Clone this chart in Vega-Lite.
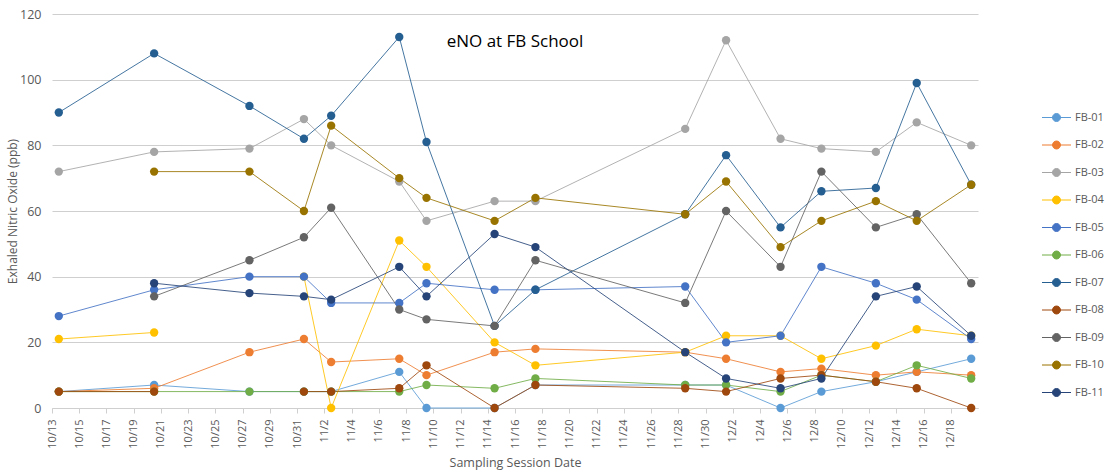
{
  "$schema": "https://vega.github.io/schema/vega-lite/v6.json",
  "width": 926,
  "height": 394,
  "autosize": {"type": "none"},
  "padding": {"left": 52, "top": 14, "right": 129, "bottom": 67},
  "background": "#ffffff",
  "title": {"text": "eNO at FB School", "offset": -43, "fontSize": 17, "font": "Open Sans", "fontWeight": "normal", "color": "#000000", "anchor": "middle"},
  "config": {"view": {"stroke": null}},
  "data": {"values": [
    {"d":"2015-10-13","s":"FB-01","v":5},{"d":"2015-10-20","s":"FB-01","v":7},{"d":"2015-10-27","s":"FB-01","v":5},{"d":"2015-10-31","s":"FB-01","v":5},{"d":"2015-11-02","s":"FB-01","v":5},{"d":"2015-11-07","s":"FB-01","v":11},{"d":"2015-11-09","s":"FB-01","v":0},{"d":"2015-11-14","s":"FB-01","v":0},{"d":"2015-11-17","s":"FB-01","v":7},{"d":"2015-11-28","s":"FB-01","v":7},{"d":"2015-12-01","s":"FB-01","v":7},{"d":"2015-12-05","s":"FB-01","v":0},{"d":"2015-12-08","s":"FB-01","v":5},{"d":"2015-12-12","s":"FB-01","v":8},{"d":"2015-12-15","s":"FB-01","v":11},{"d":"2015-12-19","s":"FB-01","v":15},
    {"d":"2015-10-13","s":"FB-02","v":5},{"d":"2015-10-20","s":"FB-02","v":6},{"d":"2015-10-27","s":"FB-02","v":17},{"d":"2015-10-31","s":"FB-02","v":21},{"d":"2015-11-02","s":"FB-02","v":14},{"d":"2015-11-07","s":"FB-02","v":15},{"d":"2015-11-09","s":"FB-02","v":10},{"d":"2015-11-14","s":"FB-02","v":17},{"d":"2015-11-17","s":"FB-02","v":18},{"d":"2015-11-28","s":"FB-02","v":17},{"d":"2015-12-01","s":"FB-02","v":15},{"d":"2015-12-05","s":"FB-02","v":11},{"d":"2015-12-08","s":"FB-02","v":12},{"d":"2015-12-12","s":"FB-02","v":10},{"d":"2015-12-15","s":"FB-02","v":11},{"d":"2015-12-19","s":"FB-02","v":10},
    {"d":"2015-10-13","s":"FB-03","v":72},{"d":"2015-10-20","s":"FB-03","v":78},{"d":"2015-10-27","s":"FB-03","v":79},{"d":"2015-10-31","s":"FB-03","v":88},{"d":"2015-11-02","s":"FB-03","v":80},{"d":"2015-11-07","s":"FB-03","v":69},{"d":"2015-11-09","s":"FB-03","v":57},{"d":"2015-11-14","s":"FB-03","v":63},{"d":"2015-11-17","s":"FB-03","v":63},{"d":"2015-11-28","s":"FB-03","v":85},{"d":"2015-12-01","s":"FB-03","v":112},{"d":"2015-12-05","s":"FB-03","v":82},{"d":"2015-12-08","s":"FB-03","v":79},{"d":"2015-12-12","s":"FB-03","v":78},{"d":"2015-12-15","s":"FB-03","v":87},{"d":"2015-12-19","s":"FB-03","v":80},
    {"d":"2015-10-13","s":"FB-04","v":21},{"d":"2015-10-20","s":"FB-04","v":23},{"d":"2015-10-27","s":"FB-04","v":null},{"d":"2015-10-31","s":"FB-04","v":40},{"d":"2015-11-02","s":"FB-04","v":0},{"d":"2015-11-07","s":"FB-04","v":51},{"d":"2015-11-09","s":"FB-04","v":43},{"d":"2015-11-14","s":"FB-04","v":20},{"d":"2015-11-17","s":"FB-04","v":13},{"d":"2015-11-28","s":"FB-04","v":17},{"d":"2015-12-01","s":"FB-04","v":22},{"d":"2015-12-05","s":"FB-04","v":22},{"d":"2015-12-08","s":"FB-04","v":15},{"d":"2015-12-12","s":"FB-04","v":19},{"d":"2015-12-15","s":"FB-04","v":24},{"d":"2015-12-19","s":"FB-04","v":22},
    {"d":"2015-10-13","s":"FB-05","v":28},{"d":"2015-10-20","s":"FB-05","v":36},{"d":"2015-10-27","s":"FB-05","v":40},{"d":"2015-10-31","s":"FB-05","v":40},{"d":"2015-11-02","s":"FB-05","v":32},{"d":"2015-11-07","s":"FB-05","v":32},{"d":"2015-11-09","s":"FB-05","v":38},{"d":"2015-11-14","s":"FB-05","v":36},{"d":"2015-11-17","s":"FB-05","v":36},{"d":"2015-11-28","s":"FB-05","v":37},{"d":"2015-12-01","s":"FB-05","v":20},{"d":"2015-12-05","s":"FB-05","v":22},{"d":"2015-12-08","s":"FB-05","v":43},{"d":"2015-12-12","s":"FB-05","v":38},{"d":"2015-12-15","s":"FB-05","v":33},{"d":"2015-12-19","s":"FB-05","v":21},
    {"d":"2015-10-13","s":"FB-06","v":5},{"d":"2015-10-20","s":"FB-06","v":5},{"d":"2015-10-27","s":"FB-06","v":5},{"d":"2015-10-31","s":"FB-06","v":5},{"d":"2015-11-02","s":"FB-06","v":5},{"d":"2015-11-07","s":"FB-06","v":5},{"d":"2015-11-09","s":"FB-06","v":7},{"d":"2015-11-14","s":"FB-06","v":6},{"d":"2015-11-17","s":"FB-06","v":9},{"d":"2015-11-28","s":"FB-06","v":7},{"d":"2015-12-01","s":"FB-06","v":7},{"d":"2015-12-05","s":"FB-06","v":5},{"d":"2015-12-08","s":"FB-06","v":10},{"d":"2015-12-12","s":"FB-06","v":8},{"d":"2015-12-15","s":"FB-06","v":13},{"d":"2015-12-19","s":"FB-06","v":9},
    {"d":"2015-10-13","s":"FB-07","v":90},{"d":"2015-10-20","s":"FB-07","v":108},{"d":"2015-10-27","s":"FB-07","v":92},{"d":"2015-10-31","s":"FB-07","v":82},{"d":"2015-11-02","s":"FB-07","v":89},{"d":"2015-11-07","s":"FB-07","v":113},{"d":"2015-11-09","s":"FB-07","v":81},{"d":"2015-11-14","s":"FB-07","v":25},{"d":"2015-11-17","s":"FB-07","v":36},{"d":"2015-11-28","s":"FB-07","v":59},{"d":"2015-12-01","s":"FB-07","v":77},{"d":"2015-12-05","s":"FB-07","v":55},{"d":"2015-12-08","s":"FB-07","v":66},{"d":"2015-12-12","s":"FB-07","v":67},{"d":"2015-12-15","s":"FB-07","v":99},{"d":"2015-12-19","s":"FB-07","v":68},
    {"d":"2015-10-13","s":"FB-08","v":5},{"d":"2015-10-20","s":"FB-08","v":5},{"d":"2015-10-27","s":"FB-08","v":null},{"d":"2015-10-31","s":"FB-08","v":5},{"d":"2015-11-02","s":"FB-08","v":5},{"d":"2015-11-07","s":"FB-08","v":6},{"d":"2015-11-09","s":"FB-08","v":13},{"d":"2015-11-14","s":"FB-08","v":0},{"d":"2015-11-17","s":"FB-08","v":7},{"d":"2015-11-28","s":"FB-08","v":6},{"d":"2015-12-01","s":"FB-08","v":5},{"d":"2015-12-05","s":"FB-08","v":9},{"d":"2015-12-08","s":"FB-08","v":10},{"d":"2015-12-12","s":"FB-08","v":8},{"d":"2015-12-15","s":"FB-08","v":6},{"d":"2015-12-19","s":"FB-08","v":0},
    {"d":"2015-10-20","s":"FB-09","v":34},{"d":"2015-10-27","s":"FB-09","v":45},{"d":"2015-10-31","s":"FB-09","v":52},{"d":"2015-11-02","s":"FB-09","v":61},{"d":"2015-11-07","s":"FB-09","v":30},{"d":"2015-11-09","s":"FB-09","v":27},{"d":"2015-11-14","s":"FB-09","v":25},{"d":"2015-11-17","s":"FB-09","v":45},{"d":"2015-11-28","s":"FB-09","v":32},{"d":"2015-12-01","s":"FB-09","v":60},{"d":"2015-12-05","s":"FB-09","v":43},{"d":"2015-12-08","s":"FB-09","v":72},{"d":"2015-12-12","s":"FB-09","v":55},{"d":"2015-12-15","s":"FB-09","v":59},{"d":"2015-12-19","s":"FB-09","v":38},
    {"d":"2015-10-20","s":"FB-10","v":72},{"d":"2015-10-27","s":"FB-10","v":72},{"d":"2015-10-31","s":"FB-10","v":60},{"d":"2015-11-02","s":"FB-10","v":86},{"d":"2015-11-07","s":"FB-10","v":70},{"d":"2015-11-09","s":"FB-10","v":64},{"d":"2015-11-14","s":"FB-10","v":57},{"d":"2015-11-17","s":"FB-10","v":64},{"d":"2015-11-28","s":"FB-10","v":59},{"d":"2015-12-01","s":"FB-10","v":69},{"d":"2015-12-05","s":"FB-10","v":49},{"d":"2015-12-08","s":"FB-10","v":57},{"d":"2015-12-12","s":"FB-10","v":63},{"d":"2015-12-15","s":"FB-10","v":57},{"d":"2015-12-19","s":"FB-10","v":68},
    {"d":"2015-10-20","s":"FB-11","v":38},{"d":"2015-10-27","s":"FB-11","v":35},{"d":"2015-10-31","s":"FB-11","v":34},{"d":"2015-11-02","s":"FB-11","v":33},{"d":"2015-11-07","s":"FB-11","v":43},{"d":"2015-11-09","s":"FB-11","v":34},{"d":"2015-11-14","s":"FB-11","v":53},{"d":"2015-11-17","s":"FB-11","v":49},{"d":"2015-11-28","s":"FB-11","v":17},{"d":"2015-12-01","s":"FB-11","v":9},{"d":"2015-12-05","s":"FB-11","v":6},{"d":"2015-12-08","s":"FB-11","v":9},{"d":"2015-12-12","s":"FB-11","v":34},{"d":"2015-12-15","s":"FB-11","v":37},{"d":"2015-12-19","s":"FB-11","v":22}
  ]},
  "encoding": {
    "x": {
      "field": "d", "type": "temporal",
      "scale": {"type": "utc", "domain": [1444651200000, 1450526400000]},
      "axis": {
        "title": "Sampling Session Date",
        "titleFont": "Open Sans", "titleFontSize": 12.5, "titleFontWeight": "normal", "titleColor": "#595959", "titlePadding": 8,
        "values": [1444694400000,1444867200000,1445040000000,1445212800000,1445385600000,1445558400000,1445731200000,1445904000000,1446076800000,1446249600000,1446422400000,1446595200000,1446768000000,1446940800000,1447113600000,1447286400000,1447459200000,1447632000000,1447804800000,1447977600000,1448150400000,1448323200000,1448496000000,1448668800000,1448841600000,1449014400000,1449187200000,1449360000000,1449532800000,1449705600000,1449878400000,1450051200000,1450224000000,1450396800000,1450569600000],
        "format": "%-m/%-d",
        "labelExpr": "datum.value > 1450483200000 ? '' : datum.label",
        "labelAngle": -90, "labelFont": "Open Sans", "labelFontSize": 11, "labelColor": "#595959", "labelPadding": 6,
        "labelOverlap": false, "labelBound": false, "labelFlush": false,
        "grid": false, "domainColor": "#CFCFCF", "domainWidth": 1,
        "ticks": true, "tickColor": "#CFCFCF", "tickSize": 5, "tickOffset": -6.8
      }
    },
    "y": {
      "field": "v", "type": "quantitative",
      "scale": {"domain": [0, 120], "nice": false, "zero": true},
      "axis": {
        "title": "Exhaled Nitric Oxide (ppb)",
        "titleFont": "Open Sans", "titleFontSize": 12, "titleFontWeight": "normal", "titleColor": "#595959", "titlePadding": 0,
        "values": [0, 20, 40, 60, 80, 100, 120],
        "labelFont": "Open Sans", "labelFontSize": 12.5, "labelColor": "#595959", "labelPadding": 11,
        "grid": true, "gridColor": "#CFCFCF", "gridWidth": 1,
        "domain": false, "ticks": false
      }
    },
    "color": {
      "field": "s", "type": "nominal",
      "scale": {
        "domain": ["FB-01","FB-02","FB-03","FB-04","FB-05","FB-06","FB-07","FB-08","FB-09","FB-10","FB-11"],
        "range": ["#5B9BD5","#ED7D31","#A5A5A5","#FFC000","#4472C4","#70AD47","#255E91","#9E480E","#636363","#997300","#264478"]
      },
      "legend": {
        "title": null, "orient": "none", "legendX": 999, "legendY": 98, "padding": 0,
        "symbolType": "M-2.9,0H2.9M0.8,0A0.8,0.8 0 1,1 -0.8,0A0.8,0.8 0 1,1 0.8,0Z",
        "symbolSize": 100, "symbolStrokeWidth": 1, "labelOffset": 13, "rowPadding": 14.5,
        "labelFont": "Open Sans", "labelFontSize": 11, "labelColor": "#595959",
        "encode": {"symbols": {"update": {"fill": {"scale": "color", "field": "value"}, "stroke": {"scale": "color", "field": "value"}, "opacity": {"value": 1}}}}
      }
    }
  },
  "layer": [
    {"mark": {"type": "line", "strokeWidth": 1, "strokeOpacity": 0.85, "invalid": "break-paths-show-domains"}},
    {"transform": [{"filter": "datum.v != null"}], "mark": {"type": "point", "filled": true, "size": 70, "opacity": 1}}
  ]
}
